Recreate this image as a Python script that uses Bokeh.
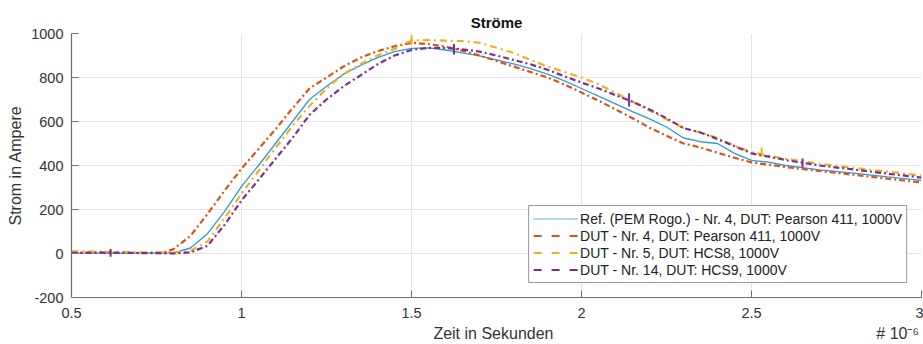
from bokeh.plotting import figure
from bokeh.models import FixedTicker, Range1d, Legend, LegendItem, LinearAxis
from bokeh.embed import file_html
from bokeh.resources import INLINE

# Time in microseconds (axis shows x 10^-6 s), current in A
t = [0.5, 0.6, 0.7, 0.77, 0.8, 0.85, 0.9, 0.95, 1.0, 1.05, 1.1, 1.15, 1.2, 1.25,
     1.3, 1.35, 1.4, 1.45, 1.5, 1.55, 1.6, 1.65, 1.7, 1.75, 1.8, 1.85, 1.9, 1.95,
     2.0, 2.05, 2.1, 2.15, 2.2, 2.25, 2.3, 2.35, 2.4, 2.45, 2.5, 2.55, 2.6, 2.7,
     2.8, 2.9, 3.0]

ref_pem = [2, 2, 2, 2, 3, 25, 90, 190, 305, 400, 500, 600, 700, 760,
           815, 855, 890, 918, 932, 935, 925, 912, 898, 880, 862, 840, 815, 785,
           750, 715, 680, 645, 612, 575, 525, 508, 500, 455, 423, 415, 400, 380,
           365, 348, 332]

dut_nr4 = [5, 3, 3, 4, 20, 80, 180, 285, 386, 475, 565, 660, 750, 800,
           850, 890, 920, 942, 958, 952, 940, 922, 900, 875, 850, 825, 800, 768,
           732, 695, 655, 615, 572, 535, 500, 482, 458, 435, 414, 404, 393, 375,
           358, 340, 323]

dut_nr5 = [10, 8, 6, 5, 4, 12, 55, 160, 272, 375, 480, 580, 670, 750,
           815, 860, 900, 930, 968, 970, 968, 965, 958, 935, 912, 880, 850, 825,
           800, 770, 730, 690, 650, 610, 570, 550, 525, 490, 460, 445, 430, 408,
           390, 372, 355]

dut_nr14 = [3, 4, 2, 1, 0, 5, 35, 130, 241, 335, 430, 525, 630, 700,
            760, 810, 860, 900, 925, 935, 935, 928, 918, 900, 880, 860, 835, 805,
            777, 750, 720, 690, 655, 615, 570, 550, 520, 488, 455, 440, 425, 400,
            382, 363, 345]

# Short noise spikes on the HCS traces
spike5_t = [1.5, 2.53]
spike5_lo = [950, 440]
spike5_hi = [992, 482]
spike14_t = [0.615, 1.625, 2.14, 2.65]
spike14_lo = [-15, 905, 668, 392]
spike14_hi = [20, 952, 728, 432]

x_ticks = [0.5, 1, 1.5, 2, 2.5, 3]
x_tick_labels = ["0.5", "1", "1.5", "2", "2.5", "3"]
y_ticks = [-200, 0, 200, 400, 600, 800, 1000]
y_tick_labels = ["-200", "0", "200", "400", "600", "800", "1000"]

# Caption row under the time axis: axis title and the 10^-6 scale factor
caption_pos = [1.741, 2.93]
caption_text = ["Zeit in Sekunden", "# 10\u207b\u2076"]

legend_labels = [
    "Ref. (PEM Rogo.) - Nr. 4, DUT: Pearson 411, 1000V",
    "DUT - Nr. 4, DUT: Pearson 411, 1000V",
    "DUT - Nr. 5, DUT: HCS8, 1000V",
    "DUT - Nr. 14, DUT: HCS9, 1000V",
]

BLUE = "#2f9ad6"
ORANGE = "#d95319"
YELLOW = "#edb120"
PURPLE = "#7e2f8e"
FONT = "Liberation Sans"
TXT = "#333333"

p = figure(width=923, height=344, output_backend="svg", toolbar_location=None,
           x_range=Range1d(0.5, 3.0), y_range=Range1d(-200, 1000),
           min_border_left=71, min_border_right=2, min_border_top=33,
           min_border_bottom=47)
p.outline_line_color = None
p.background_fill_color = "white"

p.title.text = "Ströme"
p.title.align = "center"
p.title.text_font = FONT
p.title.text_font_size = "15px"
p.title.text_font_style = "bold"
p.title.text_color = "#111111"
p.title.standoff = 5

for ax in (p.xaxis[0], p.yaxis[0]):
    ax.axis_line_color = "#707070"
    ax.axis_line_width = 1.2
    ax.major_tick_line_color = "#707070"
    ax.major_tick_in = 7
    ax.major_tick_out = 0
    ax.minor_tick_line_color = None
    ax.major_label_text_font = FONT
    ax.major_label_text_font_size = "14.5px"
    ax.major_label_text_color = TXT
    ax.axis_label_text_font = FONT
    ax.axis_label_text_font_size = "16px"
    ax.axis_label_text_font_style = "normal"
    ax.axis_label_text_color = TXT

p.xaxis.ticker = FixedTicker(ticks=x_ticks)
p.xaxis.major_label_overrides = {v: s for v, s in zip(x_ticks, x_tick_labels)}
p.xaxis.major_label_standoff = 10
p.xaxis.major_label_text_line_height = 1.0

p.yaxis.ticker = FixedTicker(ticks=y_ticks)
p.yaxis.major_label_overrides = {v: s for v, s in zip(y_ticks, y_tick_labels)}
p.yaxis.major_label_standoff = 8
p.yaxis.axis_label = "Strom in Ampere"
p.yaxis.axis_label_standoff = 4

# Second, line-less axis carrying the caption row
cap_axis = LinearAxis(ticker=FixedTicker(ticks=caption_pos),
                      major_label_overrides={v: s for v, s in zip(caption_pos, caption_text)})
cap_axis.axis_line_color = None
cap_axis.major_tick_line_color = None
cap_axis.minor_tick_line_color = None
cap_axis.major_tick_in = 0
cap_axis.major_tick_out = 0
cap_axis.major_label_standoff = 4
cap_axis.major_label_text_line_height = 1.0
cap_axis.major_label_text_font = FONT
cap_axis.major_label_text_font_size = "16px"
cap_axis.major_label_text_color = TXT
p.add_layout(cap_axis, "below")

p.xgrid.grid_line_color = "#e4e4e4"
p.ygrid.grid_line_color = "#e4e4e4"

# Measured traces
p.line(t, ref_pem, line_color=BLUE, line_width=1.3)
p.line(t, dut_nr4, line_color=ORANGE, line_width=2.2, line_dash="6 3 2 3")
p.line(t, dut_nr5, line_color=YELLOW, line_width=2.2, line_dash="7 4 2 4")
p.line(t, dut_nr14, line_color=PURPLE, line_width=2.2, line_dash="6 3 2 3")
p.segment(spike5_t, spike5_lo, spike5_t, spike5_hi, line_color=YELLOW, line_width=2)
p.segment(spike14_t, spike14_lo, spike14_t, spike14_hi, line_color=PURPLE, line_width=2)

# Legend entries with the plain line styles (kept off the visible range)
off_x = [-5, -4]
off_y = [-5000, -5000]
r_ref = p.line(off_x, off_y, line_color=BLUE, line_width=1.5, line_dash="1 1")
r_n4 = p.line(off_x, off_y, line_color=ORANGE, line_width=2.2, line_dash="8 10")
r_n5 = p.line(off_x, off_y, line_color=YELLOW, line_width=2.2, line_dash="8 10")
r_n14 = p.line(off_x, off_y, line_color=PURPLE, line_width=2.2, line_dash="8 10")

legend = Legend(items=[LegendItem(label=lab, renderers=[r])
                       for lab, r in zip(legend_labels, [r_ref, r_n4, r_n5, r_n14])],
                location="bottom_right")
legend.margin = 14
legend.padding = 4
legend.spacing = 0
legend.glyph_width = 45
legend.glyph_height = 17
legend.label_height = 17
legend.label_standoff = 2
legend.label_text_font = FONT
legend.label_text_font_size = "14px"
legend.label_text_color = "#222222"
legend.border_line_color = "#333333"
legend.border_line_width = 1
legend.background_fill_color = "white"
legend.background_fill_alpha = 1.0
p.add_layout(legend, "center")

open("out.html", "w").write(file_html(p, INLINE))
